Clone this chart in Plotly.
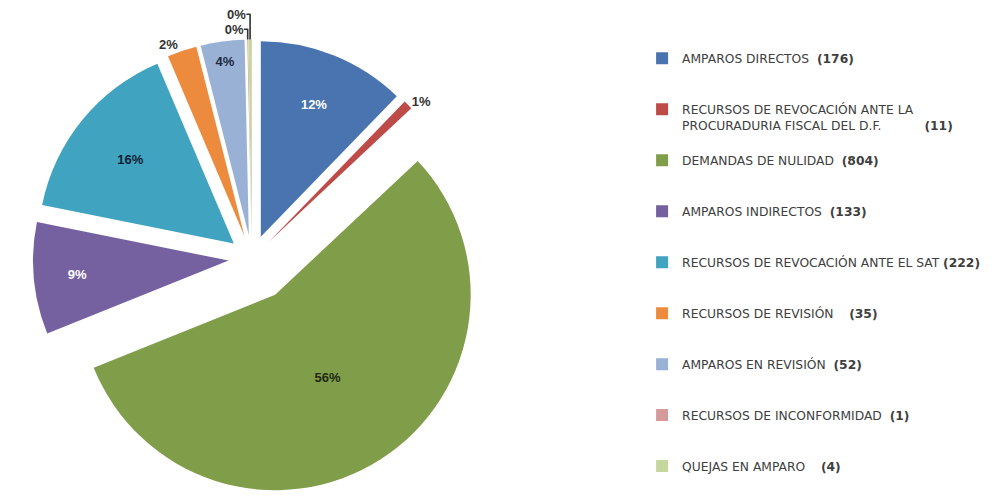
import plotly.graph_objects as go

# Asuntos atendidos por tipo (conteo) y el porcentaje que se rotula en cada rebanada
categorias = [
    "AMPAROS DIRECTOS",
    "RECURSOS DE REVOCACIÓN ANTE LA PROCURADURIA FISCAL DEL D.F.",
    "DEMANDAS DE NULIDAD",
    "AMPAROS INDIRECTOS",
    "RECURSOS DE REVOCACIÓN ANTE EL SAT",
    "RECURSOS DE REVISIÓN",
    "AMPAROS EN REVISIÓN",
    "RECURSOS DE INCONFORMIDAD",
    "QUEJAS EN AMPARO",
]
conteos = [176, 11, 804, 133, 222, 35, 52, 1, 4]
porcentajes = ["12%", "1%", "56%", "9%", "16%", "2%", "4%", "0%", "0%"]

# Texto de la leyenda (nombre y conteo entre paréntesis)
leyenda = [
    "AMPAROS DIRECTOS  <b>(176)</b>",
    "RECURSOS DE REVOCACIÓN ANTE LA<br>PROCURADURIA FISCAL DEL D.F.\u00a0\u00a0\u00a0\u00a0\u00a0\u00a0\u00a0\u00a0\u00a0\u00a0\u00a0<b>(11)</b>",
    "DEMANDAS DE NULIDAD  <b>(804)</b>",
    "AMPAROS INDIRECTOS  <b>(133)</b>",
    "RECURSOS DE REVOCACIÓN ANTE EL SAT <b>(222)</b>",
    "RECURSOS DE REVISIÓN\u00a0\u00a0\u00a0\u00a0<b>(35)</b>",
    "AMPAROS EN REVISIÓN  <b>(52)</b>",
    "RECURSOS DE INCONFORMIDAD  <b>(1)</b>",
    "QUEJAS EN AMPARO\u00a0\u00a0\u00a0\u00a0<b>(4)</b>",
]

colores = ["#4a74b0", "#be4b48", "#809d4a", "#7661a0", "#40a3bf",
           "#ec8b3e", "#9ab1d6", "#d59a9a", "#c5d69e"]
color_texto = ["#ffffff", "#333333", "#1f2a10", "#ffffff", "#0f2236",
               "#333333", "#1d2a40", "#333333", "#333333"]
posicion_texto = ["inside", "outside", "inside", "inside", "inside",
                  "outside", "inside", "outside", "outside"]
separacion = [0.12, 0.12, 0.22, 0.12, 0.12, 0.12, 0.12, 0.12, 0.12]

# Cada entrada ocupa tres renglones para espaciar la leyenda; el símbolo queda en el renglón central
etiquetas = []
for texto in leyenda:
    if "<br>" in texto:
        etiquetas.append("\u00a0<br>" + texto)
    else:
        etiquetas.append("\u00a0<br>" + texto + "<br>\u00a0")

fig = go.Figure(
    go.Pie(
        labels=etiquetas,
        values=conteos,
        text=porcentajes,
        textinfo="text",
        texttemplate="<b>%{text}</b>",
        textposition=posicion_texto,
        insidetextorientation="horizontal",
        insidetextfont=dict(color=color_texto, size=13, family="Liberation Sans"),
        outsidetextfont=dict(color="#333333", size=13, family="Liberation Sans"),
        marker=dict(colors=colores, line=dict(color="#ffffff", width=0)),
        pull=separacion,
        sort=False,
        direction="clockwise",
        rotation=0,
        hoverinfo="skip",
        domain=dict(x=[0.0, 0.5], y=[0.0, 0.96]),
    )
)

fig.update_layout(
    width=1008,
    height=497,
    margin=dict(l=0, r=0, t=0, b=0, autoexpand=False),
    paper_bgcolor="#ffffff",
    plot_bgcolor="#ffffff",
    showlegend=True,
    legend=dict(
        x=0.637,
        y=0.944,
        xanchor="left",
        yanchor="top",
        maxheight=1.0,
        font=dict(family="DejaVu Sans", size=12.3, color="#404040"),
        traceorder="normal",
        itemclick=False,
        itemdoubleclick=False,
        bgcolor="rgba(0,0,0,0)",
    ),
)

fig.write_html("out.html")
